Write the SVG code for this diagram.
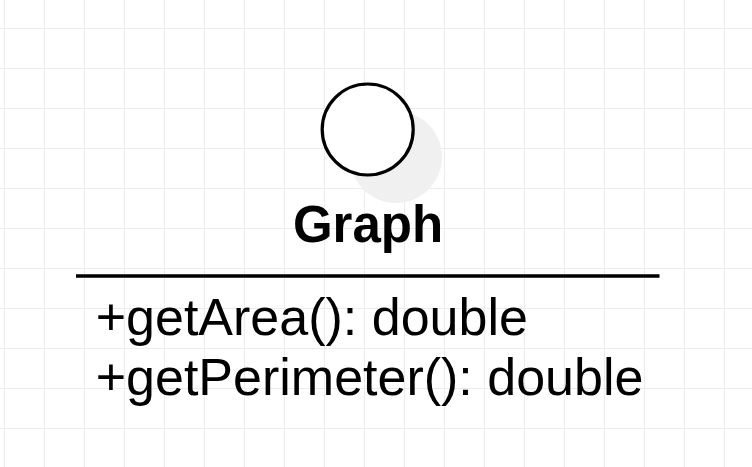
<svg xmlns="http://www.w3.org/2000/svg" width="752" height="467" viewBox="0 0 752 467">
<defs>
<pattern id="grid" x="4" y="28" width="40" height="40" patternUnits="userSpaceOnUse">
<path d="M0 0.5 H40 M0.5 0 V40" fill="none" stroke="#ebebeb" stroke-width="1"/>
</pattern>
</defs>
<style>
.t{font-family:"Liberation Sans",Arial,sans-serif;fill:#000}
</style>
<rect width="752" height="467" fill="#fff"/>
<rect x="0" y="0" width="752" height="467" fill="url(#grid)"/>
<g id="graph-interface">
<circle cx="396" cy="157" r="46" fill="#f0f0f0"/>
<circle cx="367.7" cy="129.5" r="45.5" fill="#fff" stroke="#000" stroke-width="3.2"/>
<text class="t" x="368" y="241.7" font-size="51" font-weight="bold" text-anchor="middle">Graph</text>
<line x1="76" y1="276" x2="659.5" y2="276" stroke="#000" stroke-width="3.5"/>
<text class="t" x="95.7" y="335" font-size="52">+getArea(): double</text>
<text class="t" x="95.7" y="395" font-size="52">+getPerimeter(): double</text>
</g>
<g id="connectors"></g>
</svg>
